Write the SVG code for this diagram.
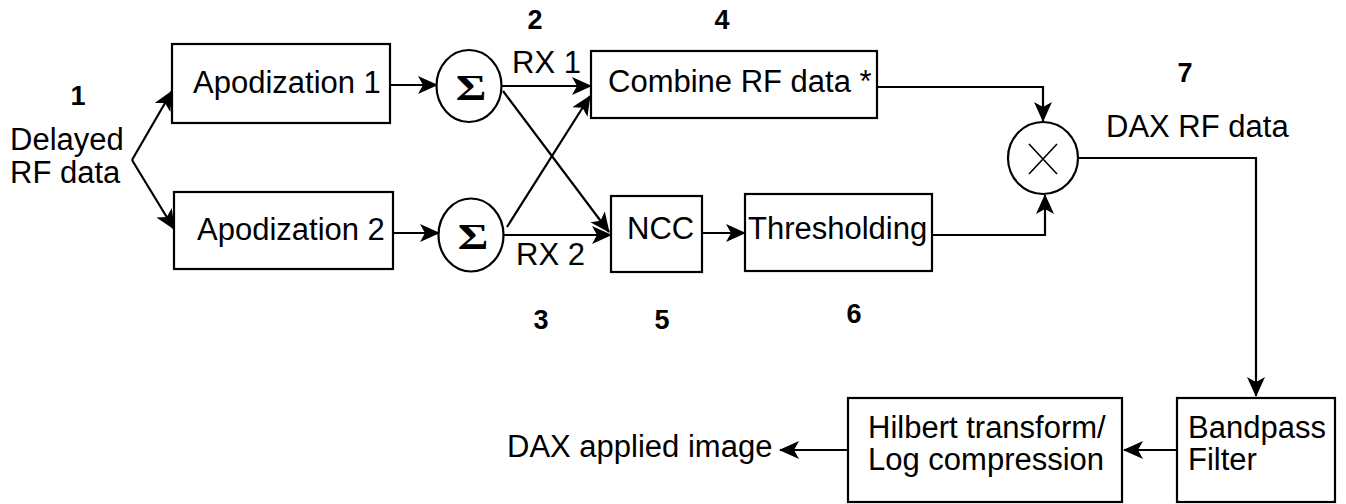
<svg xmlns="http://www.w3.org/2000/svg" width="1346" height="504" viewBox="0 0 1346 504">
<defs>
<marker id="ah" markerUnits="userSpaceOnUse" markerWidth="22" markerHeight="20" refX="19" refY="9" orient="auto">
<path d="M0,0 L20,9 L0,18 L5,9 z" fill="#000"/>
</marker>
<style>
.box{fill:#fff;stroke:#000;stroke-width:2.2}
.c{fill:none;stroke:#000;stroke-width:2.2}
.t{font-family:"Liberation Sans",Arial,sans-serif;font-size:31px;fill:#000}
.n{font-family:"Liberation Sans",Arial,sans-serif;font-size:27px;font-weight:bold;fill:#000;text-anchor:middle}
.s{font-family:"Liberation Serif","Times New Roman",serif;font-size:36px;font-weight:bold;fill:#000;text-anchor:middle}
.ar{fill:none;stroke:#000;stroke-width:2.2;marker-end:url(#ah)}
</style>
</defs>
<rect width="1346" height="504" fill="#fff"/>
<g id="labels">
<text class="n" x="78" y="105">1</text>
<text class="t" x="10" y="150">Delayed</text>
<text class="t" x="10" y="183">RF data</text>
<text class="n" x="535" y="29">2</text>
<text class="n" x="722" y="29">4</text>
<text class="n" x="541" y="329">3</text>
<text class="n" x="662" y="329">5</text>
<text class="n" x="854" y="323">6</text>
<text class="n" x="1185" y="82">7</text>
<text class="t" x="512" y="73">RX 1</text>
<text class="t" x="516" y="265">RX 2</text>
<text class="t" x="1106" y="137">DAX RF data</text>
<text class="t" x="507" y="457">DAX applied image</text>
</g>
<g id="apod1">
<rect class="box" x="172" y="44" width="218" height="79"/>
<text class="t" x="193" y="93">Apodization 1</text>
</g>
<g id="apod2">
<rect class="box" x="174" y="192" width="219" height="77"/>
<text class="t" x="197" y="240">Apodization 2</text>
</g>
<g id="sum1">
<ellipse class="c" cx="469" cy="86" rx="32.5" ry="36"/>
<text class="s" transform="translate(471,100) scale(1.3,1)">Σ</text>
</g>
<g id="sum2">
<ellipse class="c" cx="471" cy="235" rx="32.5" ry="36.5"/>
<text class="s" transform="translate(473,249) scale(1.3,1)">Σ</text>
</g>
<g id="combine">
<rect class="box" x="591" y="51" width="286" height="67"/>
<text class="t" x="608" y="92">Combine RF data *</text>
</g>
<g id="ncc">
<rect class="box" x="611" y="196" width="91" height="76"/>
<text class="t" x="627" y="239">NCC</text>
</g>
<g id="thresh">
<rect class="box" x="745" y="194" width="187" height="77"/>
<text class="t" x="748" y="239">Thresholding</text>
</g>
<g id="mult">
<ellipse class="c" cx="1043" cy="158" rx="35" ry="36"/>
<path d="M1029,144 L1057,174 M1057,144 L1029,174" stroke="#000" stroke-width="1.6" fill="none"/>
</g>
<g id="bandpass">
<rect class="box" x="1177" y="398" width="158" height="104"/>
<text class="t" x="1188" y="438">Bandpass</text>
<text class="t" x="1188" y="470">Filter</text>
</g>
<g id="hilbert">
<rect class="box" x="848" y="398" width="274" height="104"/>
<text class="t" x="868" y="438">Hilbert transform/</text>
<text class="t" x="868" y="470">Log compression</text>
</g>
<g id="connectors">
<path class="ar" d="M132,160 L172,91"/>
<path class="ar" d="M132,160 L174,229"/>
<path class="ar" d="M390,85 L437,85"/>
<path class="ar" d="M393,233 L439,233"/>
<path class="ar" d="M502,86 L591,86"/>
<path class="ar" d="M503,91 L609,232"/>
<path class="ar" d="M507,227 L590,96"/>
<path class="ar" d="M504,235 L611,235"/>
<path class="ar" d="M702,233 L745,233"/>
<path class="ar" d="M877,87 L1043,87 L1043,121"/>
<path class="ar" d="M932,235 L1045,235 L1045,195"/>
<path class="ar" d="M1078,158 L1256,158 L1256,396"/>
<path class="ar" d="M1177,450 L1124,450"/>
<path class="ar" d="M848,450 L780,450"/>
</g>
</svg>
